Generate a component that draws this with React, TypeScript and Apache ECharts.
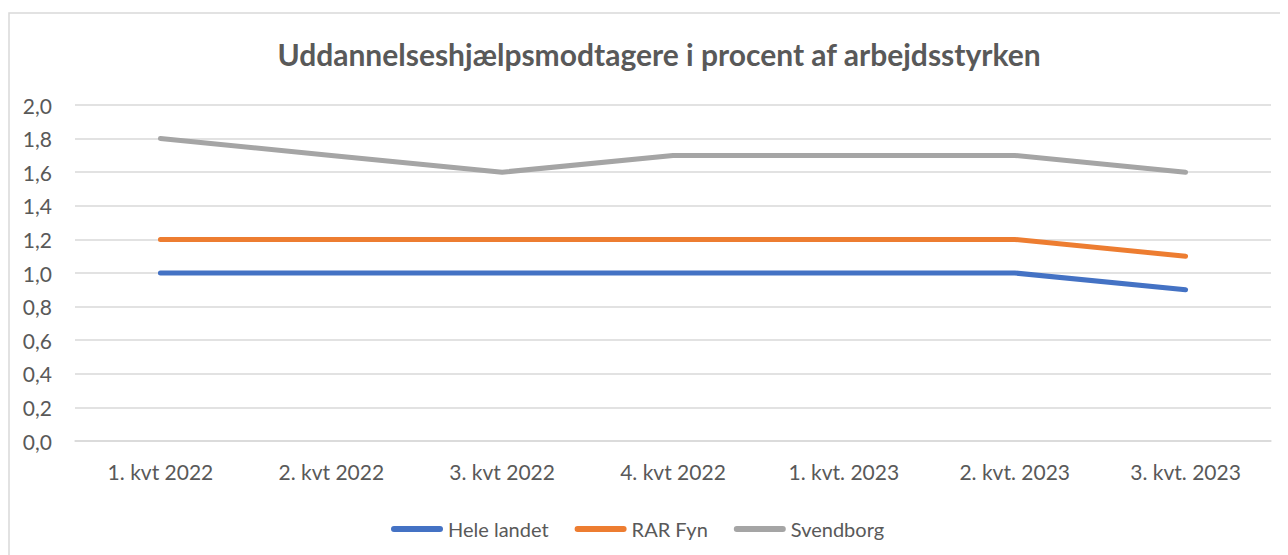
import React, { useEffect, useRef } from "react";
import * as echarts from "echarts";

const categories = [
  "1. kvt 2022",
  "2. kvt 2022",
  "3. kvt 2022",
  "4. kvt 2022",
  "1. kvt. 2023",
  "2. kvt. 2023",
  "3. kvt. 2023",
];
const heleLandet = [1.0, 1.0, 1.0, 1.0, 1.0, 1.0, 0.9];
const rarFyn = [1.2, 1.2, 1.2, 1.2, 1.2, 1.2, 1.1];
const svendborg = [1.8, 1.7, 1.6, 1.7, 1.7, 1.7, 1.6];
const seriesNames = ["Hele landet", "RAR Fyn", "Svendborg"];
const colors = ["#4472C4", "#ED7D31", "#A5A5A5"];

const FONT = "Lato";
const TXT = "#595959";

export default function App() {
  const ref = useRef<HTMLDivElement>(null);
  useEffect(() => {
    if (!ref.current) return;
    const chart = echarts.init(ref.current, undefined, { renderer: "svg" });
    const data = [heleLandet, rarFyn, svendborg];
    chart.setOption({
      animation: false,
      color: colors,
      textStyle: { fontFamily: FONT },
      title: {
        text: "Uddannelseshjælpsmodtagere i procent af arbejdsstyrken",
        left: 646,
        textAlign: "center",
        top: 26,
        textStyle: { fontFamily: FONT, fontWeight: "bold", fontSize: 30, color: TXT },
      },
      graphic: [
        {
          type: "rect",
          shape: { x: 1, y: 5, width: 2000, height: 1000 },
          style: { fill: "none", stroke: "#d9d9d9", lineWidth: 1.5 },
          silent: true,
        },
      ],
      legend: {
        bottom: 11,
        left: 378,
        itemWidth: 52,
        itemHeight: 6,
        itemGap: 26,
        icon: "path://M3,0 L49,0 A3,3 0 0 1 49,6 L3,6 A3,3 0 0 1 3,0 Z",
        textStyle: { fontFamily: FONT, fontSize: 20, color: TXT },
        data: seriesNames,
      },
      grid: { left: 67, right: 17, top: 97, bottom: 114 },
      xAxis: {
        type: "category",
        data: categories,
        boundaryGap: true,
        axisLine: { lineStyle: { color: "#d9d9d9", width: 1.5 } },
        axisTick: { show: false },
        axisLabel: { fontFamily: FONT, fontSize: 21, color: TXT, margin: 20 },
      },
      yAxis: {
        type: "value",
        min: 0,
        max: 2,
        interval: 0.2,
        axisLine: { show: false },
        axisTick: { show: false },
        splitLine: { lineStyle: { color: "#d9d9d9", width: 1.5 } },
        axisLabel: {
          fontFamily: FONT,
          fontSize: 21,
          color: TXT,
          margin: 23,
          formatter: (v: number) => v.toFixed(1).replace(".", ","),
        },
      },
      series: seriesNames.map((name, i) => ({
        name,
        type: "line",
        data: data[i],
        showSymbol: false,
        symbol: "none",
        lineStyle: { width: 5, color: colors[i], cap: "round", join: "round" },
        itemStyle: { color: colors[i] },
      })),
    });
    return () => chart.dispose();
  }, []);
  return <div ref={ref} style={{ width: 1280, height: 547 }} />;
}
